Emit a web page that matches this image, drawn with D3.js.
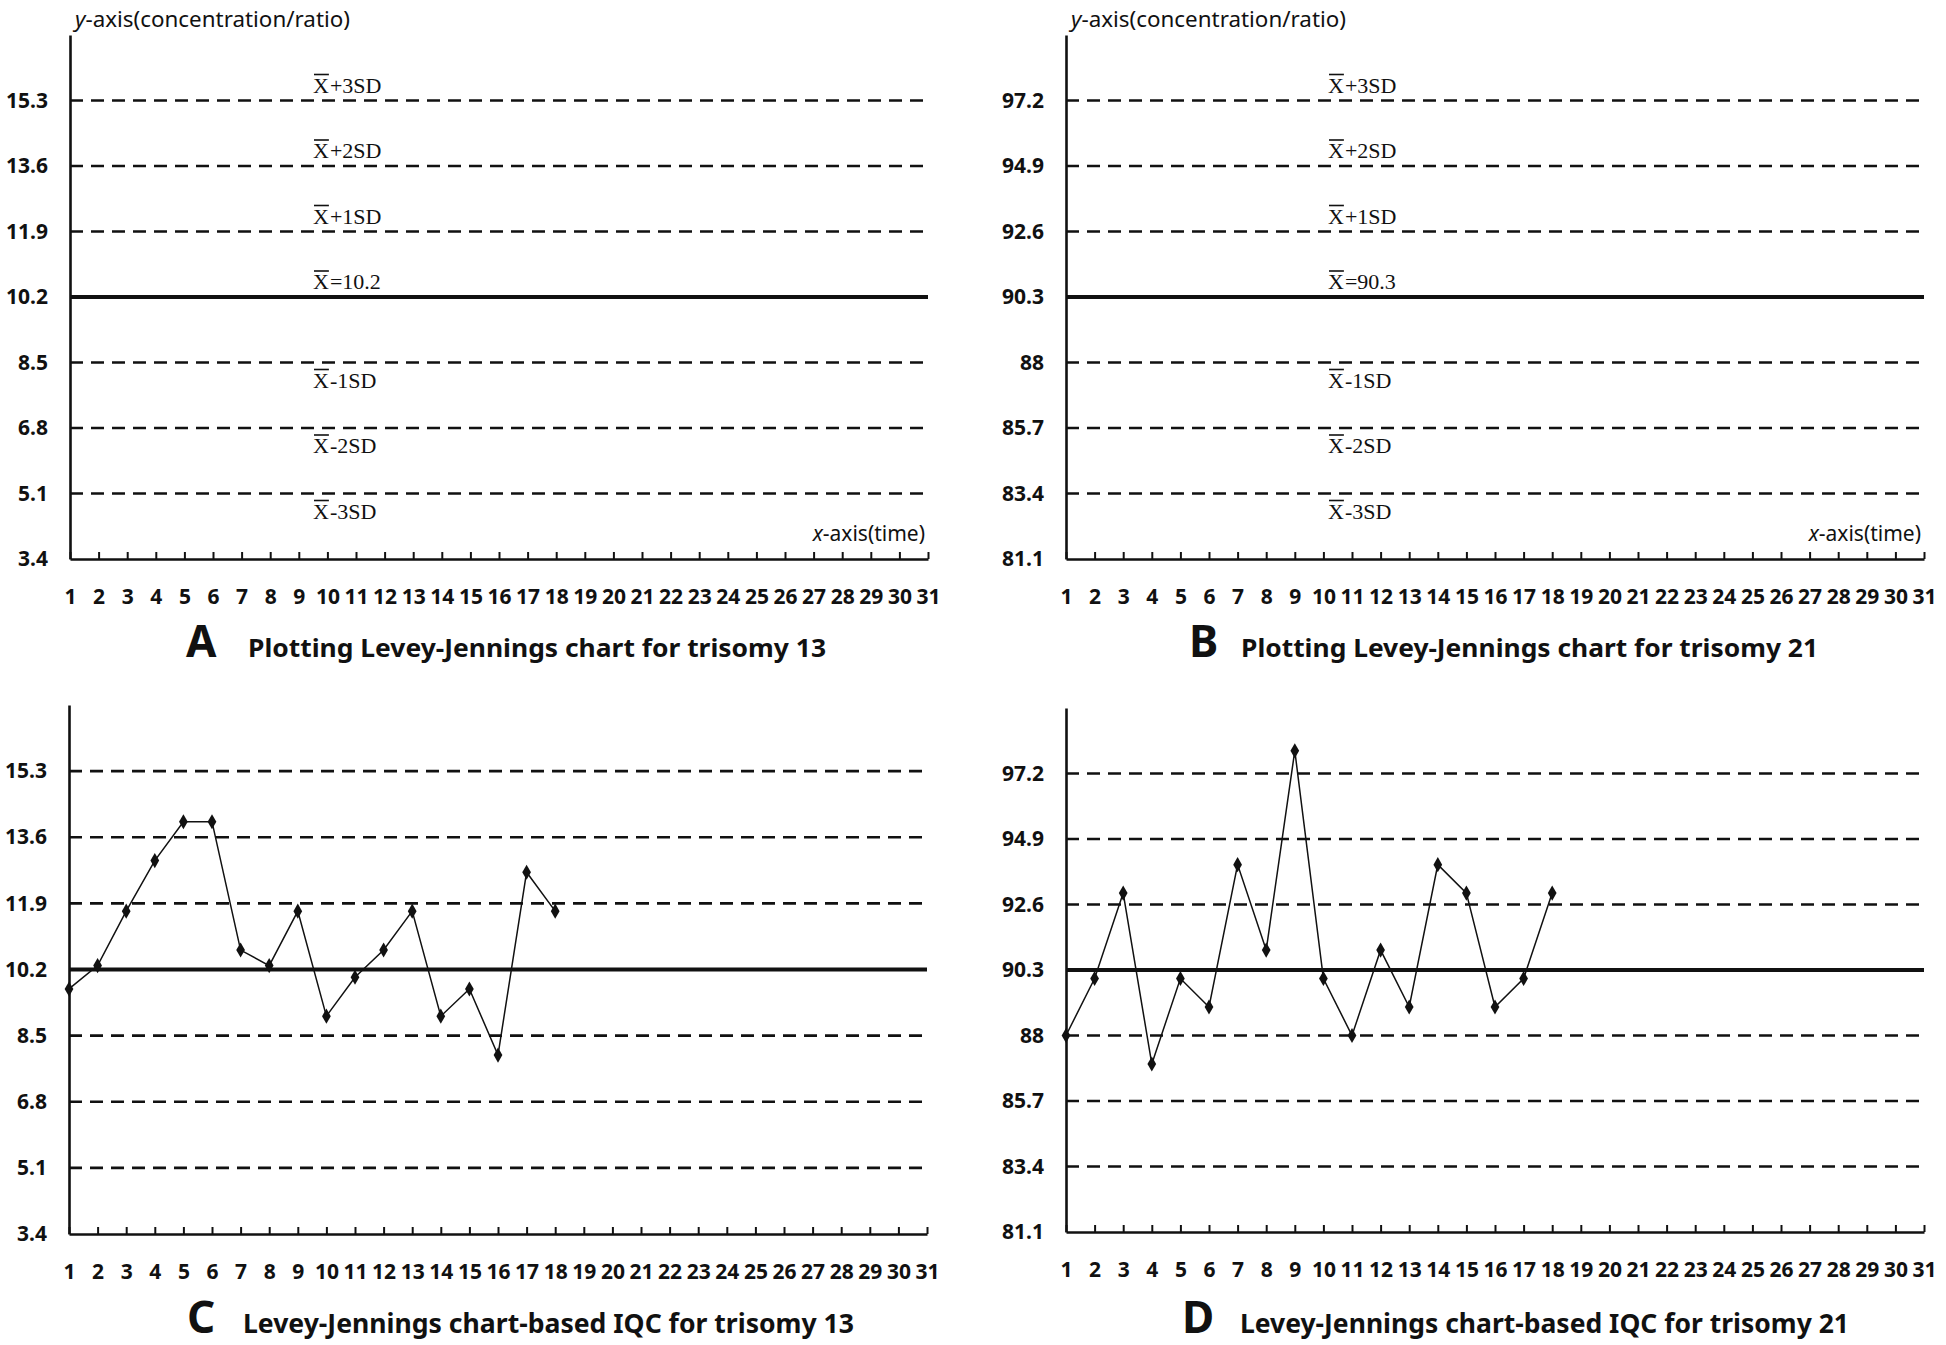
<!DOCTYPE html>
<meta charset="utf-8">
<style>
  body { margin: 0; background: #fff; }
  .tick text { font-family: "Noto Sans", sans-serif; font-weight: bold; font-size: 21px; fill: #111; }
  .serif { font-family: "Liberation Serif", "DejaVu Serif", serif; font-size: 22px; fill: #111; }
  .lab { font-family: "Noto Sans", sans-serif; font-size: 21px; fill: #111; }
  .ttl { font-family: "Noto Sans", sans-serif; font-weight: bold; fill: #111; }
</style>
<svg width="1946" height="1345"></svg>
<script src="https://cdn.jsdelivr.net/npm/d3@7"></script>
<script>
// time axis (days) and control levels (mean +/- 1,2,3 SD, plus axis floor)
const days = d3.range(1, 32);
const t13Levels = [3.4, 5.1, 6.8, 8.5, 10.2, 11.9, 13.6, 15.3];
const t21Levels = [81.1, 83.4, 85.7, 88, 90.3, 92.6, 94.9, 97.2];
const t13Domain = [3.4, 17.0];
const t21Domain = [81.1, 99.5];
const levelNames = ["", "-3SD", "-2SD", "-1SD", "=", "+1SD", "+2SD", "+3SD"];
const meanIndex = 4;

// IQC results, days 1..18
const t13Iqc = [9.7, 10.3, 11.7, 13.0, 14.0, 14.0, 10.7, 10.3, 11.7, 9.0, 10.0, 10.7, 11.7, 9.0, 9.7, 8.0, 12.7, 11.7];
const t21Iqc = [88.0, 90.0, 93.0, 87.0, 90.0, 89.0, 94.0, 91.0, 98.0, 90.0, 88.0, 91.0, 89.0, 94.0, 93.0, 89.0, 90.0, 93.0];

const panels = [
  {levels: t13Levels, domain: t13Domain, values: null, letter: "A", title: "Plotting Levey-Jennings chart for trisomy 13"},
  {levels: t21Levels, domain: t21Domain, values: null, letter: "B", title: "Plotting Levey-Jennings chart for trisomy 21"},
  {levels: t13Levels, domain: t13Domain, values: t13Iqc, letter: "C", title: "Levey-Jennings chart-based IQC for trisomy 13"},
  {levels: t21Levels, domain: t21Domain, values: t21Iqc, letter: "D", title: "Levey-Jennings chart-based IQC for trisomy 21"}
];

// layout (pixels)
const layout = [
  {left: 70,   top: 35,  bottom: 559,  labelX: 243, letterX: 186,  textX: 248,  textLen: 578, base: 657,  size: 25},
  {left: 1066, top: 35,  bottom: 559,  labelX: 262, letterX: 1189, textX: 1241, textLen: 577, base: 657,  size: 25},
  {left: 69,   top: 705, bottom: 1234, labelX: 243, letterX: 187,  textX: 243,  textLen: 611, base: 1333, size: 26},
  {left: 1066, top: 708, bottom: 1232, labelX: 262, letterX: 1182, textX: 1240, textLen: 609, base: 1333, size: 26}
];
const plotW = 858;

const svg = d3.select("svg");

panels.forEach(function(p, i) {
  const L = layout[i];
  const g = svg.append("g").attr("transform", "translate(" + L.left + "," + L.top + ")");
  const h = L.bottom - L.top;
  const x = d3.scaleLinear().domain([1, 31]).range([0, plotW]);
  const y = d3.scaleLinear().domain(p.domain).range([h, 0]);

  // control lines
  p.levels.forEach(function(v, k) {
    if (k === 0) return;
    g.append("line")
      .attr("x1", 0).attr("x2", x(31))
      .attr("y1", y(v)).attr("y2", y(v))
      .attr("stroke", "#111")
      .attr("stroke-width", k === meanIndex ? 4 : 2.6)
      .attr("stroke-dasharray", k === meanIndex ? null : "13,8");
  });

  // y axis
  const ya = g.append("g").call(d3.axisLeft(y).tickValues(p.levels).tickSize(0).tickPadding(22).tickFormat(function(d) { return d; }));
  ya.attr("font-family", null).attr("font-size", null);
  ya.select(".domain").attr("stroke", "#111").attr("stroke-width", 2.6);

  // x axis
  const xa = g.append("g").attr("transform", "translate(0," + h + ")")
    .call(d3.axisBottom(x).tickValues(days).tickSizeInner(-7).tickSizeOuter(0).tickPadding(30).tickFormat(function(d) { return d; }));
  xa.attr("font-family", null).attr("font-size", null);
  xa.select(".domain").attr("stroke", "#111").attr("stroke-width", 2.6);
  xa.selectAll(".tick line").attr("stroke", "#111").attr("stroke-width", 2);

  if (p.values) {
    const pts = p.values.map(function(v, j) { return [j + 1, v]; });
    g.append("path")
      .datum(pts)
      .attr("fill", "none")
      .attr("stroke", "#111")
      .attr("stroke-width", 1.5)
      .attr("d", d3.line().x(function(d) { return x(d[0]); }).y(function(d) { return y(d[1]); }));
    g.selectAll(".pt").data(pts).enter().append("path")
      .attr("class", "pt")
      .attr("transform", function(d) { return "translate(" + x(d[0]) + "," + y(d[1]) + ")"; })
      .attr("d", d3.symbol(d3.symbolDiamond, 66))
      .attr("fill", "#111");
  } else {
    // level labels
    p.levels.forEach(function(v, k) {
      if (k === 0) return;
      const rest = k === meanIndex ? "=" + v : levelNames[k];
      const yy = k >= meanIndex ? y(v) - 8 : y(v) + 25;
      sdLabel(g, L.labelX, yy, rest);
    });
    const yl = g.append("text").attr("class", "lab").attr("x", 5).attr("y", -8)
      .attr("textLength", 275).attr("lengthAdjust", "spacingAndGlyphs");
    yl.append("tspan").attr("font-style", "italic").text("y");
    yl.append("tspan").text("-axis(concentration/ratio)");
    const xl = g.append("text").attr("class", "lab").attr("x", x(31) - 3).attr("y", h - 18)
      .attr("text-anchor", "end");
    xl.append("tspan").attr("font-style", "italic").text("x");
    xl.append("tspan").text("-axis(time)");
  }

  // caption
  svg.append("text").attr("class", "ttl").attr("x", L.letterX).attr("y", L.base)
    .attr("font-size", 44).text(p.letter);
  svg.append("text").attr("class", "ttl").attr("x", L.textX).attr("y", L.base)
    .attr("font-size", L.size)
    .attr("textLength", L.textLen).attr("lengthAdjust", "spacingAndGlyphs")
    .text(p.title);
});

function sdLabel(g, x0, y0, rest) {
  const xt = g.append("text").attr("class", "serif").attr("x", x0).attr("y", y0).text("X");
  const w = xt.node().getComputedTextLength();
  g.append("line")
    .attr("x1", x0 + 1).attr("x2", x0 + w)
    .attr("y1", y0 - 18).attr("y2", y0 - 18)
    .attr("stroke", "#111").attr("stroke-width", 1.6);
  g.append("text").attr("class", "serif").attr("x", x0 + w + 1).attr("y", y0).text(rest);
}
</script>
